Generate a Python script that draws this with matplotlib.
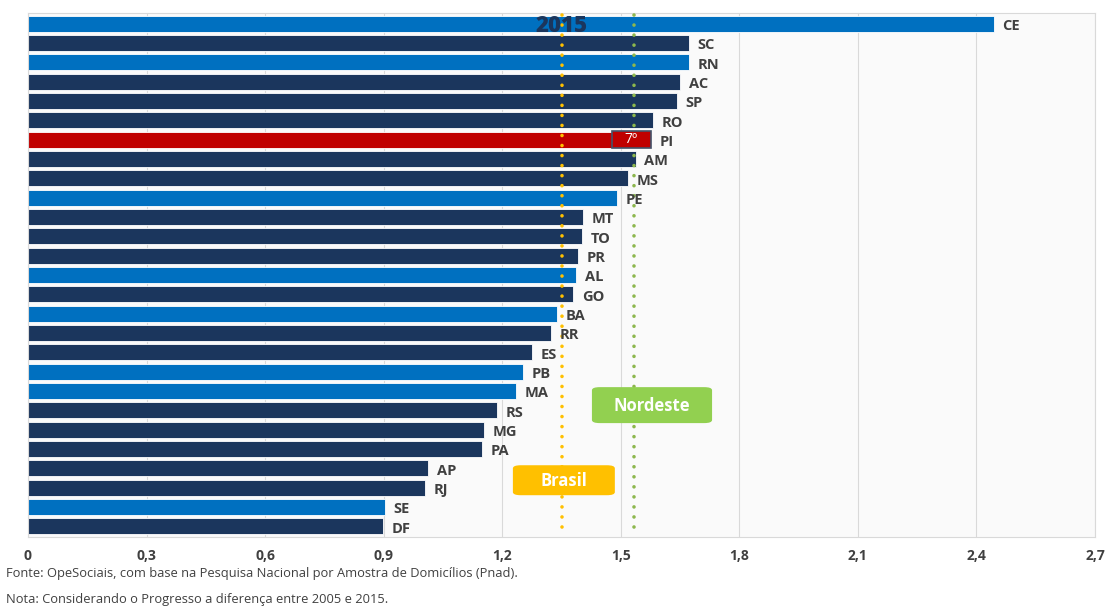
import numpy as np
import matplotlib.pyplot as plt
from matplotlib.patches import FancyBboxPatch, Rectangle

states = ["CE", "SC", "RN", "AC", "SP", "RO", "PI", "AM", "MS", "PE", "MT", "TO", "PR", "AL",
          "GO", "BA", "RR", "ES", "PB", "MA", "RS", "MG", "PA", "AP", "RJ", "SE", "DF"]
values = [2.444, 1.673, 1.673, 1.650, 1.642, 1.581, 1.576, 1.538, 1.518, 1.490, 1.404, 1.402,
          1.392, 1.387, 1.379, 1.339, 1.323, 1.275, 1.253, 1.235, 1.187, 1.154, 1.149, 1.012,
          1.005, 0.903, 0.898]
nordeste = ["CE", "RN", "PE", "AL", "BA", "PB", "MA", "SE", "PI"]
brasil_val = 1.351
nordeste_val = 1.533
xticks = [0, 0.3, 0.6, 0.9, 1.2, 1.5, 1.8, 2.1, 2.4, 2.7]
xticklabels = ["0", "0,3", "0,6", "0,9", "1,2", "1,5", "1,8", "2,1", "2,4", "2,7"]

plt.rcParams['font.family'] = ['Open Sans', 'DejaVu Sans']
navy = "#1B365D"
blue = "#0070C0"
red = "#C00000"
txt = "#404040"

fig = plt.figure(figsize=(11.1, 6.06), dpi=100)
ax = fig.add_axes([0.0252, 0.1139, 0.9613, 0.8646])
ax.set_facecolor("#FAFAFA")

colors = []
for s in states:
    if s == "PI":
        colors.append(red)
    elif s in nordeste:
        colors.append(blue)
    else:
        colors.append(navy)

y = np.arange(len(states))
ax.barh(y, values, height=0.82, color=colors, edgecolor="white", linewidth=0.6, zorder=2)
ax.set_ylim(len(states) - 0.45, -0.55)
ax.set_xlim(0, 2.7)

for yi, v, s in zip(y, values, states):
    ax.text(v + 0.022, yi + 0.12, s, va="center", ha="left", fontsize=10.5,
            fontweight="bold", color=txt, zorder=4)

# linhas de referência
ax.plot([brasil_val, brasil_val], [-0.45, len(states) - 0.75], color="#FFC000", lw=2.6,
        linestyle=(0, (0.01, 2.77)), dash_capstyle="round", zorder=3)
ax.plot([nordeste_val, nordeste_val], [-0.45, len(states) - 0.75], color="#8DB74E", lw=2.6,
        linestyle=(0, (0.01, 2.77)), dash_capstyle="round", zorder=3)

# caixa 7º
pi = states.index("PI")
ax.add_patch(Rectangle((1.477, pi - 0.45), 0.099, 0.9, facecolor=red, edgecolor="#44546A",
                       linewidth=1.2, zorder=4))
ax.text(1.5265, pi, "7º", ha="center", va="center", color="white", fontsize=10, zorder=5)

ax.add_patch(FancyBboxPatch((1.227, 22.84), 0.258, 1.55, boxstyle="round,pad=0,rounding_size=0.02",
                            facecolor="#FFC000", edgecolor="none", zorder=5,
                            mutation_aspect=8))
ax.text(1.356, 23.65, "Brasil", ha="center", va="center", color="white", fontsize=12,
        fontweight="bold", zorder=6)
ax.add_patch(FancyBboxPatch((1.427, 18.8), 0.304, 1.86, boxstyle="round,pad=0,rounding_size=0.02",
                            facecolor="#92D050", edgecolor="none", zorder=5,
                            mutation_aspect=8))
ax.text(1.579, 19.75, "Nordeste", ha="center", va="center", color="white", fontsize=12,
        fontweight="bold", zorder=6)

ax.text(1.351, 0.12, "2015", ha="center", va="center", color=navy, fontsize=16,
        fontweight="heavy", zorder=6)

ax.set_xticks(xticks)
ax.set_xticklabels(xticklabels, fontsize=10, fontweight="bold", color=txt)
ax.set_yticks([])
ax.tick_params(axis="x", length=0, pad=9)
ax.grid(axis="x", color="#D9D9D9", linewidth=0.8, zorder=0)
for sp in ax.spines.values():
    sp.set_color("#D9D9D9")
    sp.set_linewidth(0.8)

fig.text(0.005, 1 - 574 / 606, "Fonte: OpeSociais, com base na Pesquisa Nacional por Amostra de Domicílios (Pnad).",
         fontsize=9.3, color=txt, va="center")
fig.text(0.005, 1 - 600 / 606, "Nota: Considerando o Progresso a diferença entre 2005 e 2015.",
         fontsize=9.3, color=txt, va="center")

fig.savefig("out.png", dpi=100)
